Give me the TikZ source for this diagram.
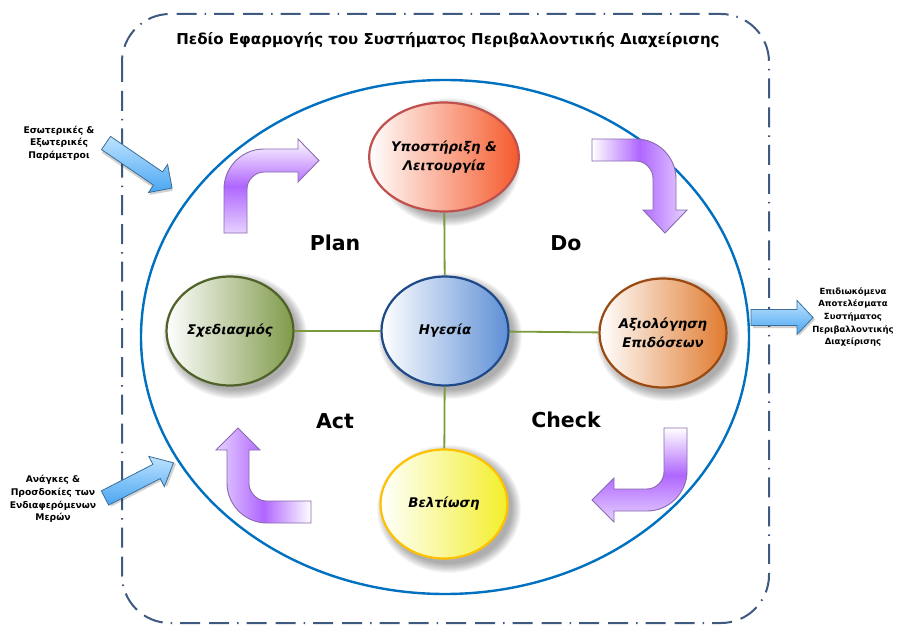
\documentclass[tikz,border=0pt]{standalone}
\usepackage{fontspec}
\usetikzlibrary{shapes.geometric}
\newfontfamily\dv{DejaVu Sans}
\definecolor{outerc}{HTML}{3E5A80}
\definecolor{bigc}{HTML}{0070C0}
\definecolor{connc}{HTML}{7A9A3C}
\definecolor{purp}{HTML}{B066FF}
\definecolor{lav}{HTML}{E6D2FF}
\definecolor{purpb}{HTML}{8A6AAE}
\definecolor{bluea}{HTML}{1A8CEB}
\definecolor{blueb}{HTML}{BDE2FF}
\definecolor{bluec}{HTML}{4AA6F2}
\definecolor{bluebd}{HTML}{3A6E98}
\definecolor{redbd}{HTML}{C0504D}
\definecolor{redf}{HTML}{F55A2C}
\definecolor{bluebd2}{HTML}{1F4A8A}
\definecolor{bluef}{HTML}{5E8FD6}
\definecolor{olbd}{HTML}{4F6228}
\definecolor{olf}{HTML}{7F9A4A}
\definecolor{orbd}{HTML}{9A4A10}
\definecolor{orf}{HTML}{E07A2E}
\definecolor{yebd}{HTML}{FFC000}
\definecolor{yef}{HTML}{F3EF2A}
\tikzset{
  outerbox/.style={draw=outerc, line width=2pt, dash pattern=on 20pt off 9pt on 20pt off 8pt on 1.5pt off 8pt},
  cyc/.style={ellipse, minimum width=127pt, minimum height=109pt, inner sep=0pt, line width=2.2pt, align=center,
     font=\dv\bfseries\itshape\fontsize{13.3}{19}\selectfont},
  conn/.style={draw=connc, line width=1.8pt},
  pdca/.style={font=\dv\bfseries\fontsize{20.5}{24}\selectfont},
  bent/.style={draw=purpb, line width=0.9pt},
  barrow/.style={draw=bluebd, line width=0.8pt},
  side/.style={align=center, font=\dv\bfseries\fontsize{9.2}{12.7}\selectfont},
  sideout/.style={align=center, font=\dv\bfseries\fontsize{8.5}{12.6}\selectfont},
}
\newcommand{\softshadow}[4]{% x y rx ry
  \foreach \i in {0,...,9}{
    \fill[black, opacity=0.035] (#1+5,#2+5) ellipse [x radius=#3+9-\i, y radius=#4+9-\i];
  }}
\newcommand{\bluearrow}[5]{% x y angle length headlen
  \begin{scope}[shift={(#1,#2)}, rotate=#3]
    \fill[black, opacity=0.18] (2,-5.5) -- (#4-#5+2,-5.5) -- (#4-#5+2,-14.5) -- (#4+2,2) -- (#4-#5+2,18.5) -- (#4-#5+2,10.5) -- (2,10.5) -- cycle;
    \path[barrow, top color=blueb, middle color=bluea, bottom color=bluec]
      (0,-8) -- (#4-#5,-8) -- (#4-#5,-17) -- (#4,0) -- (#4-#5,17) -- (#4-#5,8) -- (0,8) -- cycle;
  \end{scope}}
\begin{document}
\begin{tikzpicture}[x=1pt,y=-1pt]
\useasboundingbox (0,0) rectangle (898,626);
\fill[white] (0,0) rectangle (898,626);
% outer scope box
\draw[outerbox, rounded corners=48pt] (122,14) rectangle (769,623);
\node[font=\dv\bfseries\fontsize{15}{18}\selectfont] (title) at (448,40) {Πεδίο Εφαρμογής του Συστήματος Περιβαλλοντικής Διαχείρισης};
% big ellipse
\draw[bigc, line width=2.4pt] (445,337) ellipse [x radius=304, y radius=257];
% shadows
\softshadow{444}{157}{63}{55}
\softshadow{445}{331}{63}{54}
\softshadow{230}{331}{63}{54}
\softshadow{663}{333}{63}{54}
\softshadow{444}{504}{63}{55}
% cycle nodes
\node[cyc, draw=redbd, left color=white, right color=redf] (sup) at (444,157) {Υποστήριξη \&\\Λειτουργία};
\node[cyc, draw=bluebd2, left color=white, right color=bluef] (lead) at (445,331) {Ηγεσία};
\node[cyc, draw=olbd, left color=white, right color=olf] (plan) at (230,331) {Σχεδιασμός};
\node[cyc, draw=orbd, left color=white, right color=orf] (eval) at (663,333) {Αξιολόγηση\\Επιδόσεων};
\node[cyc, draw=yebd, left color=white, right color=yef] (impr) at (444,504) {Βελτίωση};
% connectors
\draw[conn] (lead) -- (sup);
\draw[conn] (lead) -- (plan);
\draw[conn] (lead) -- (eval);
\draw[conn] (lead) -- (impr);
% PDCA labels
\node[pdca] (lplan) at (335,243) {Plan};
\node[pdca] (ldo) at (566,243) {Do};
\node[pdca] (lact) at (335,421) {Act};
\node[pdca] (lcheck) at (566,420) {Check};
% bent arrows
\path[bent, top color=white, bottom color=lav, middle color=purp]
  (224,233) -- (224,189) .. controls (224,167) and (242,149) .. (264,149) -- (298,149) -- (298,139)
  -- (319,160.5) -- (298,182) -- (298,172) -- (264,172) .. controls (255,172) and (247,180) .. (247,189)
  -- (247,233) -- cycle;
\path[bent, left color=white, right color=lav, middle color=purp]
  (592,139) -- (636,139) .. controls (658,139) and (676,157) .. (676,179) -- (676,210) -- (687,210)
  -- (665,233) -- (643,210) -- (653,210) -- (653,178) .. controls (653,169) and (645,161) .. (636,161)
  -- (592,161) -- cycle;
\path[bent, top color=white, bottom color=lav, middle color=purp]
  (664,428) -- (687,428) -- (687,471) .. controls (687,493) and (669,511) .. (647,511) -- (614,511)
  -- (614,522) -- (592,500) -- (614,478) -- (614,489) -- (647,489) .. controls (656,489) and (664,481) .. (664,472)
  -- cycle;
\path[bent, left color=lav, right color=white, middle color=purp]
  (311,501) -- (311,523) -- (267,523) .. controls (245,523) and (227,505) .. (227,483) -- (227,450)
  -- (216,450) -- (238,428) -- (260,450) -- (249,450) -- (249,484) .. controls (249,492) and (257,501) .. (266,501)
  -- cycle;
% blue arrows
\bluearrow{106}{143}{-34.3}{80}{17}
\bluearrow{105}{498}{27.2}{77}{19}
\bluearrow{751}{317.5}{0}{62}{16}
% side texts
\node[side] (tin) at (59,143) {Εσωτερικές \&\\Εξωτερικές\\Παράμετροι};
\node[side] (tneeds) at (53,499) {Ανάγκες \&\\Προσδοκίες των\\Ενδιαφερόμενων\\Μερών};
\node[sideout] (tout) at (853,317) {Επιδιωκόμενα\\Αποτελέσματα\\Συστήματος\\Περιβαλλοντικής\\Διαχείρισης};
\end{tikzpicture}
\end{document}
